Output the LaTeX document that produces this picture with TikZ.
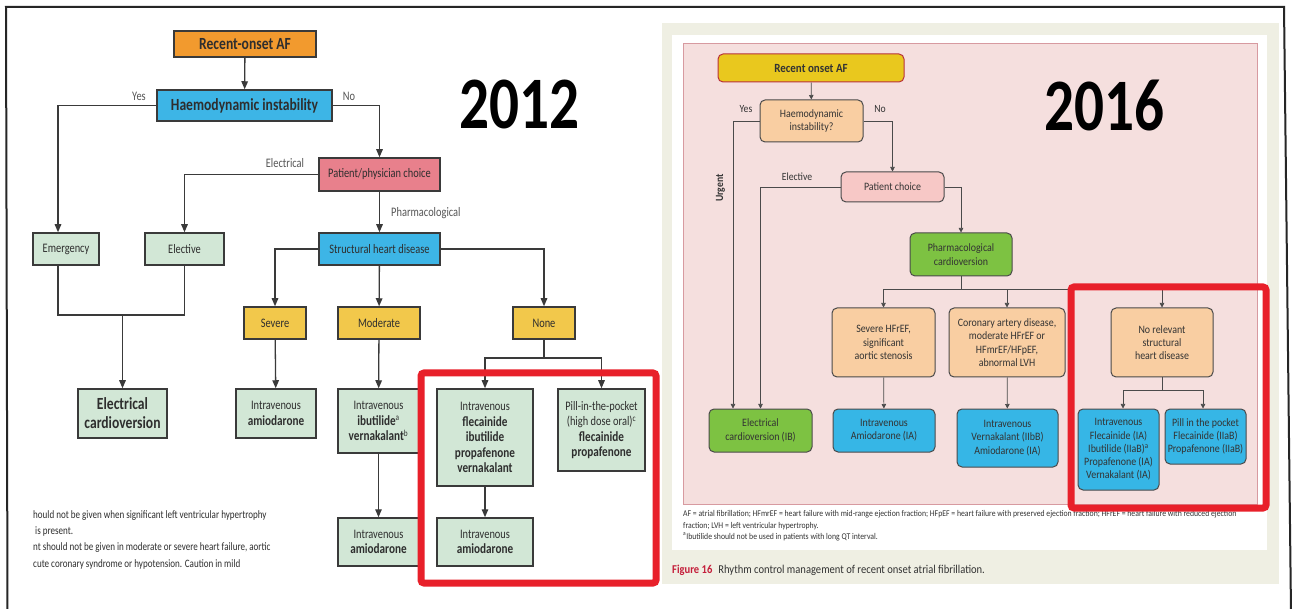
\documentclass[tikz,border=0pt]{standalone}
\usepackage{fontspec}
\setmainfont{Carlito}
\newfontfamily\gs{Carlito}[FakeStretch=0.8]
\newfontfamily\gsn{Carlito}[FakeStretch=0.88]
\newcommand\bdA[1]{{\fontsize{14}{15.5}\selectfont\bfseries #1}}
\usetikzlibrary{arrows.meta}
\definecolor{lnA}{HTML}{3A3A3A}
\definecolor{txA}{HTML}{2E2E2E}
\definecolor{txAl}{HTML}{555555}
\definecolor{orA}{HTML}{F29A2E}
\definecolor{blA}{HTML}{3DB5E6}
\definecolor{pkA}{HTML}{E8808C}
\definecolor{grA}{HTML}{D2E7D6}
\definecolor{ylA}{HTML}{F2C84B}
\definecolor{redbx}{HTML}{E8202A}
\definecolor{beige}{HTML}{EFEFE3}
\definecolor{pinkbg}{HTML}{F5DFDE}
\definecolor{pinkln}{HTML}{D79AA0}
\definecolor{lnB}{HTML}{4A4A4A}
\definecolor{txB}{HTML}{333333}
\definecolor{ylB}{HTML}{E9C81E}
\definecolor{ylBln}{HTML}{B8323A}
\definecolor{peach}{HTML}{F9CEA2}
\definecolor{pkB}{HTML}{F7C8C6}
\definecolor{grB}{HTML}{7DC242}
\definecolor{blB}{HTML}{36B6E6}
\definecolor{capred}{HTML}{C41E3A}
\begin{document}
\begin{tikzpicture}[x=1pt,y=-1pt,
  bA/.style={draw=lnA, line width=1.5pt, inner sep=1pt, align=center, text=txA,
    font=\gs\fontsize{13}{15.5}\selectfont},
  lnAs/.style={draw=lnA, line width=1.3pt},
  arrA/.style={draw=lnA, line width=1.3pt, -{Triangle[length=8pt,width=6.5pt]}},
  labA/.style={text=txAl, font=\gs\fontsize{13}{15}\selectfont, inner sep=0pt},
  fnA/.style={text=txA, font=\gs\fontsize{11.3}{13}\selectfont, inner sep=0pt, anchor=west},
  bB/.style={draw=lnB, line width=1pt, rounded corners=5pt, inner sep=1pt, align=center, text=txB,
    font=\gsn\fontsize{11.3}{13.3}\selectfont},
  lnBs/.style={draw=lnB, line width=0.7pt},
  arrB/.style={draw=lnB, line width=0.7pt, -{Triangle[length=4.5pt,width=4.5pt]}},
  labB/.style={text=txB, font=\gsn\fontsize{11}{13}\selectfont, inner sep=0pt},
  fnB/.style={text=txB, font=\gsn\fontsize{8.8}{10}\selectfont, inner sep=0pt, anchor=west},
  year/.style={font=\gs\bfseries\fontsize{74}{80}\selectfont, inner sep=0pt},
  redframe/.style={draw=redbx, line width=7pt, rounded corners=3pt}
]
\useasboundingbox (0,0) rectangle (1293,609);
\fill[white] (0,0) rectangle (1293,609);
% outer frame
\draw[draw=black!85, line width=2pt] (7.5,612) -- (6,7) -- (1284,7) -- (1291,612);

% ================= 2012 =================
\node[year] (y12) at (519.5,104.5) {2012};
\node[bA, fill=orA, minimum width=142pt, minimum height=26pt, font=\gs\bfseries\fontsize{17}{19}\selectfont] (rao) at (245,44) {Recent-onset AF};
\node[bA, fill=blA, minimum width=175pt, minimum height=31pt, font=\gs\bfseries\fontsize{17}{19}\selectfont] (haem) at (244.5,105.5) {Haemodynamic instability};
\node[bA, fill=pkA, minimum width=121pt, minimum height=33pt] (pat) at (379.5,174.5) {Patient/physician choice};
\node[bA, fill=grA, minimum width=66pt, minimum height=32pt] (emerg) at (66,249) {Emergency};
\node[bA, fill=grA, minimum width=79pt, minimum height=32pt] (elect) at (184.5,249) {Elective};
\node[bA, fill=blA, minimum width=121pt, minimum height=32pt] (shd) at (379.5,249) {Structural heart disease};
\node[bA, fill=ylA, minimum width=62pt, minimum height=32pt] (sev) at (275,323) {Severe};
\node[bA, fill=ylA, minimum width=82pt, minimum height=32pt] (mod) at (379,323) {Moderate};
\node[bA, fill=ylA, minimum width=62pt, minimum height=32pt] (none) at (544,323) {None};
\node[bA, fill=grA, minimum width=89pt, minimum height=49pt, font=\gs\bfseries\fontsize{17}{19}\selectfont] (ecv) at (122.5,413.5) {Electrical\\cardioversion};
\node[bA, fill=grA, minimum width=80pt, minimum height=49pt] (ivaA) at (276,413.5) {Intravenous\\\bdA{amiodarone}};
\node[bA, fill=grA, minimum width=81pt, minimum height=64pt] (ivib) at (378.5,421) {Intravenous\\\bdA{ibutilide}\textsuperscript{a}\\\bdA{vernakalant}\textsuperscript{b}};
\node[bA, fill=grA, minimum width=81pt, minimum height=48pt] (ivaB) at (378.5,542) {Intravenous\\\bdA{amiodarone}};
\node[bA, fill=grA, minimum width=96pt, minimum height=97pt] (ivfl) at (485,437.5) {Intravenous\\\bdA{flecainide}\\\bdA{ibutilide}\\\bdA{propafenone}\\\bdA{vernakalant}};
\node[bA, fill=grA, minimum width=87pt, minimum height=82pt] (pillA) at (601.5,430) {Pill-in-the-pocket\\(high dose oral)\textsuperscript{c}\\\bdA{flecainide}\\\bdA{propafenone}};
\node[bA, fill=grA, minimum width=96pt, minimum height=48pt] (ivaC) at (485,542) {Intravenous\\\bdA{amiodarone}};

\node[labA] (yesA) at (139,96) {Yes};
\node[labA] (noA) at (349,96) {No};
\node[labA] (elA) at (285,163) {Electrical};
\node[labA, anchor=west] (phA) at (391,213) {Pharmacological};

\coordinate (jA) at (122.5,315);
\coordinate (jB) at (544,358);
\draw[arrA] (rao) -- (haem);
\draw[arrA] (haem.west) -| ([xshift=-8pt]emerg.north);
\draw[arrA] (haem.east) -| (pat.north);
\draw[arrA] (pat.west) -| (elect.north);
\draw[arrA] (pat) -- (shd);
\draw[arrA] (shd.west) -| (sev.north);
\draw[arrA] (shd) -- (mod);
\draw[arrA] (shd.east) -| (none.north);
\draw[lnAs] ([xshift=-8pt]emerg.south) |- (jA) -| (elect.south);
\draw[arrA] (jA) -- (ecv);
\draw[arrA] (sev) -- (ivaA);
\draw[arrA] (mod) -- (ivib);
\draw[arrA] (ivib) -- (ivaB);
\draw[lnAs] (none) -- (jB);
\draw[arrA] (jB) -| (ivfl.north);
\draw[arrA] (jB) -| (pillA.north);
\draw[arrA] (ivfl) -- (ivaC);

\node[fnA] (fA1) at (33,516) {hould not be given when significant left ventricular hypertrophy};
\node[fnA] (fA2) at (35,532) {is present.};
\node[fnA] (fA3) at (33,548) {nt should not be given in moderate or severe heart failure, aortic};
\node[fnA] (fA4) at (33,564) {cute coronary syndrome or hypotension. Caution in mild};

\draw[redframe] (421,373) rectangle (656,583);

% ================= 2016 =================
\fill[beige] (662,23) rectangle (1279,584);
\fill[white] (672,35) rectangle (1267,550);
\draw[fill=pinkbg, draw=pinkln, line width=0.8pt] (683,43) rectangle (1257,504);
\node[year] (y16) at (1104,106) {2016};

\node[bB, fill=ylB, draw=ylBln, minimum width=186pt, minimum height=28pt, font=\gsn\bfseries\fontsize{12.5}{14}\selectfont] (raoB) at (811,68) {Recent onset AF};
\node[bB, fill=peach, minimum width=103pt, minimum height=42pt] (haB) at (811.5,121) {Haemodynamic\\instability?};
\node[bB, fill=pkB, minimum width=103pt, minimum height=30pt] (pcB) at (892.5,187) {Patient choice};
\node[bB, fill=grB, minimum width=102pt, minimum height=43pt] (phB) at (961,254.5) {Pharmacological\\cardioversion};
\node[bB, fill=peach, minimum width=103pt, minimum height=69pt] (svB) at (883.5,342.5) {Severe HFrEF,\\significant\\aortic stenosis};
\node[bB, fill=peach, minimum width=116pt, minimum height=69pt] (coB) at (1007,342.5) {Coronary artery disease,\\moderate HFrEF or\\HFmrEF/HFpEF,\\abnormal LVH};
\node[bB, fill=peach, minimum width=102pt, minimum height=69pt] (nrB) at (1162,342.5) {No relevant\\structural\\heart disease};
\node[bB, fill=grB, minimum width=103pt, minimum height=43pt] (ecB) at (760.5,430.5) {Electrical\\cardioversion (IB)};
\node[bB, fill=blB, minimum width=102pt, minimum height=43pt] (iaB) at (884,430.5) {Intravenous\\Amiodarone (IA)};
\node[bB, fill=blB, minimum width=101pt, minimum height=58pt] (ivB) at (1007.5,438) {Intravenous\\Vernakalant (IIbB)\\Amiodarone (IA)};
\node[bB, fill=blB, minimum width=81pt, minimum height=81pt] (ifB) at (1118.5,449.5) {Intravenous\\Flecainide (IA)\\Ibutilide (IIaB)\textsuperscript{a}\\Propafenone (IA)\\Vernakalant (IA)};
\node[bB, fill=blB, minimum width=81pt, minimum height=55pt] (ppB) at (1205.5,436.5) {Pill in the pocket\\Flecainide (IIaB)\\Propafenone (IIaB)};

\node[labB] (yesB) at (746,109) {Yes};
\node[labB] (noB) at (880,109) {No};
\node[labB] (elB) at (797,177) {Elective};
\node[labB, rotate=90, font=\gsn\bfseries\fontsize{11}{13}\selectfont] (urB) at (720.5,188) {Urgent};

\coordinate (jC) at (961,289);
\coordinate (jD) at (1162,390);
\draw[arrB] (raoB) -- (haB);
\draw[arrB] (haB.west) -| ([xshift=-27.5pt]ecB.north);
\draw[arrB] (haB.east) -| (pcB.north);
\draw[arrB] (pcB.west) -| (ecB.north);
\draw[arrB] (pcB.east) -| (phB.north);
\draw[lnBs] (phB) -- (jC);
\draw[arrB] (jC) -| (svB.north);
\draw[arrB] (jC) -| (coB.north);
\draw[arrB] (jC) -| (nrB.north);
\draw[arrB] (svB) -- (iaB);
\draw[arrB] (coB) -- (ivB);
\draw[lnBs] (nrB) -- (jD);
\draw[arrB] (jD) -| ([xshift=4.5pt]ifB.north);
\draw[arrB] (jD) -| ([xshift=-2.5pt]ppB.north);

\node[fnB] (fB1) at (683,514) {AF = atrial fibrillation; HFmrEF = heart failure with mid-range ejection fraction; HFpEF = heart failure with preserved ejection fraction; HFrEF = heart failure with reduced ejection};
\node[fnB] (fB2) at (683,526) {fraction; LVH = left ventricular hypertrophy.};
\node[fnB] (fB3) at (683,537) {\textsuperscript{a}Ibutilide should not be used in patients with long QT interval.};
\node[anchor=west, inner sep=0pt, text=txB, font=\gsn\fontsize{12}{13}\selectfont] (cap) at (672,570) {{\color{capred}\bfseries Figure 16}\hspace{6pt}Rhythm control management of recent onset atrial fibrillation.};

\draw[redframe] (1071,287) rectangle (1266,508);
\end{tikzpicture}
\end{document}
